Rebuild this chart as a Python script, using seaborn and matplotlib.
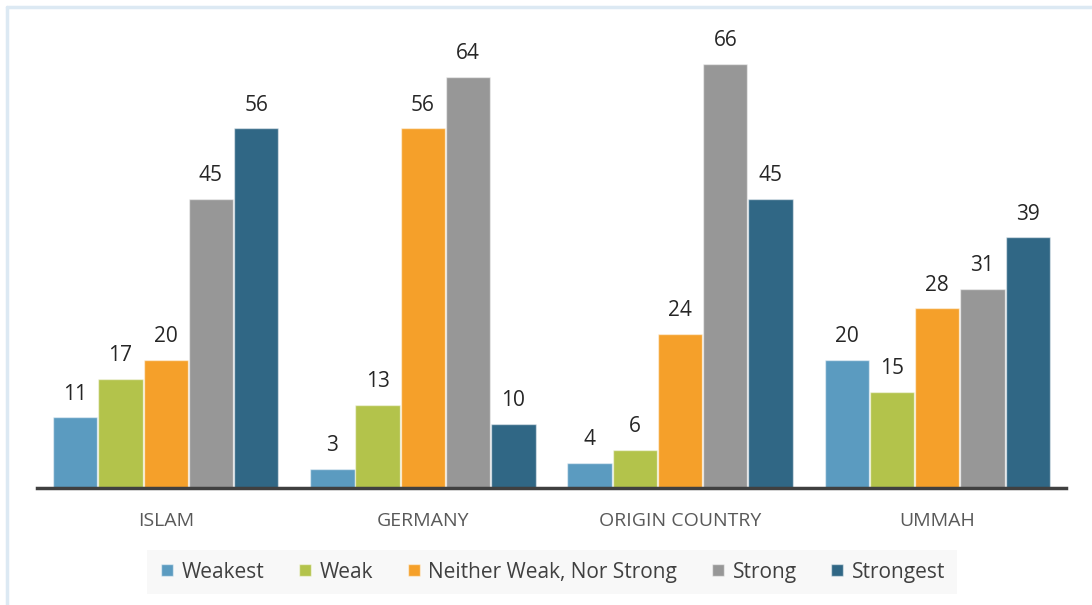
import matplotlib
matplotlib.use("Agg")
import matplotlib.pyplot as plt
import pandas as pd
import seaborn as sns
from matplotlib.lines import Line2D

categories = ["ISLAM", "GERMANY", "ORIGIN COUNTRY", "UMMAH"]
series = ["Weakest", "Weak", "Neither Weak, Nor Strong", "Strong", "Strongest"]
weakest = [11, 3, 4, 20]
weak = [17, 13, 6, 15]
neither = [20, 56, 24, 28]
strong = [45, 64, 66, 31]
strongest = [56, 10, 45, 39]
colors = ["#5b9bc0", "#b3c34b", "#f5a02a", "#979797", "#306785"]

values = [weakest, weak, neither, strong, strongest]
rows = []
for name, vals in zip(series, values):
    for cat, v in zip(categories, vals):
        rows.append({"category": cat, "level": name, "value": v})
df = pd.DataFrame(rows)

sns.set_style("white")
plt.rcParams["font.family"] = ["Open Sans", "DejaVu Sans"]

fig = plt.figure(figsize=(10.92, 6.05), dpi=100)
ax = fig.add_axes([0.034, 0.193, 0.942, 0.774])

sns.barplot(data=df, x="category", y="value", hue="level", order=categories,
            hue_order=series, palette=colors, width=0.88, gap=0.02,
            edgecolor=(1, 1, 1, 0.5), linewidth=1, saturation=1, ax=ax,
            legend=False)

for cont in ax.containers:
    ax.bar_label(cont, padding=9, fontsize=15, color="#262626")

ax.set_xlim(-0.5, 3.5)
ax.set_ylim(0, 72.8)
ax.set_xlabel("")
ax.set_ylabel("")
ax.set_yticks([])
ax.tick_params(axis="x", length=0, pad=17, labelsize=14, labelcolor="#595959")
for side in ["top", "right", "left"]:
    ax.spines[side].set_visible(False)
ax.spines["bottom"].set_color("#404040")
ax.spines["bottom"].set_linewidth(2.5)

handles = [Line2D([0], [0], marker="s", linestyle="", markersize=9,
                  markerfacecolor=c, markeredgecolor=(1, 1, 1, 0.5))
           for c in colors]
leg = fig.legend(handles, series, loc="center", bbox_to_anchor=(0.5055, 0.0545),
                 ncol=5, fontsize=15, frameon=True, handlelength=0.8,
                 handletextpad=0.3, columnspacing=1.55, borderpad=0.55,
                 fancybox=False)
leg.get_frame().set_facecolor("#f7f7f7")
leg.get_frame().set_edgecolor("none")
for t in leg.get_texts():
    t.set_color("#404040")

# thin light blue border on top and left
fig.add_artist(Line2D([0.0064, 0.0064], [0, 0.9884], color="#dce9f3", lw=2.5,
                      transform=fig.transFigure))
fig.add_artist(Line2D([0.0064, 1], [0.9884, 0.9884], color="#dce9f3", lw=2.5,
                      transform=fig.transFigure))

fig.savefig("out.png", dpi=100)
